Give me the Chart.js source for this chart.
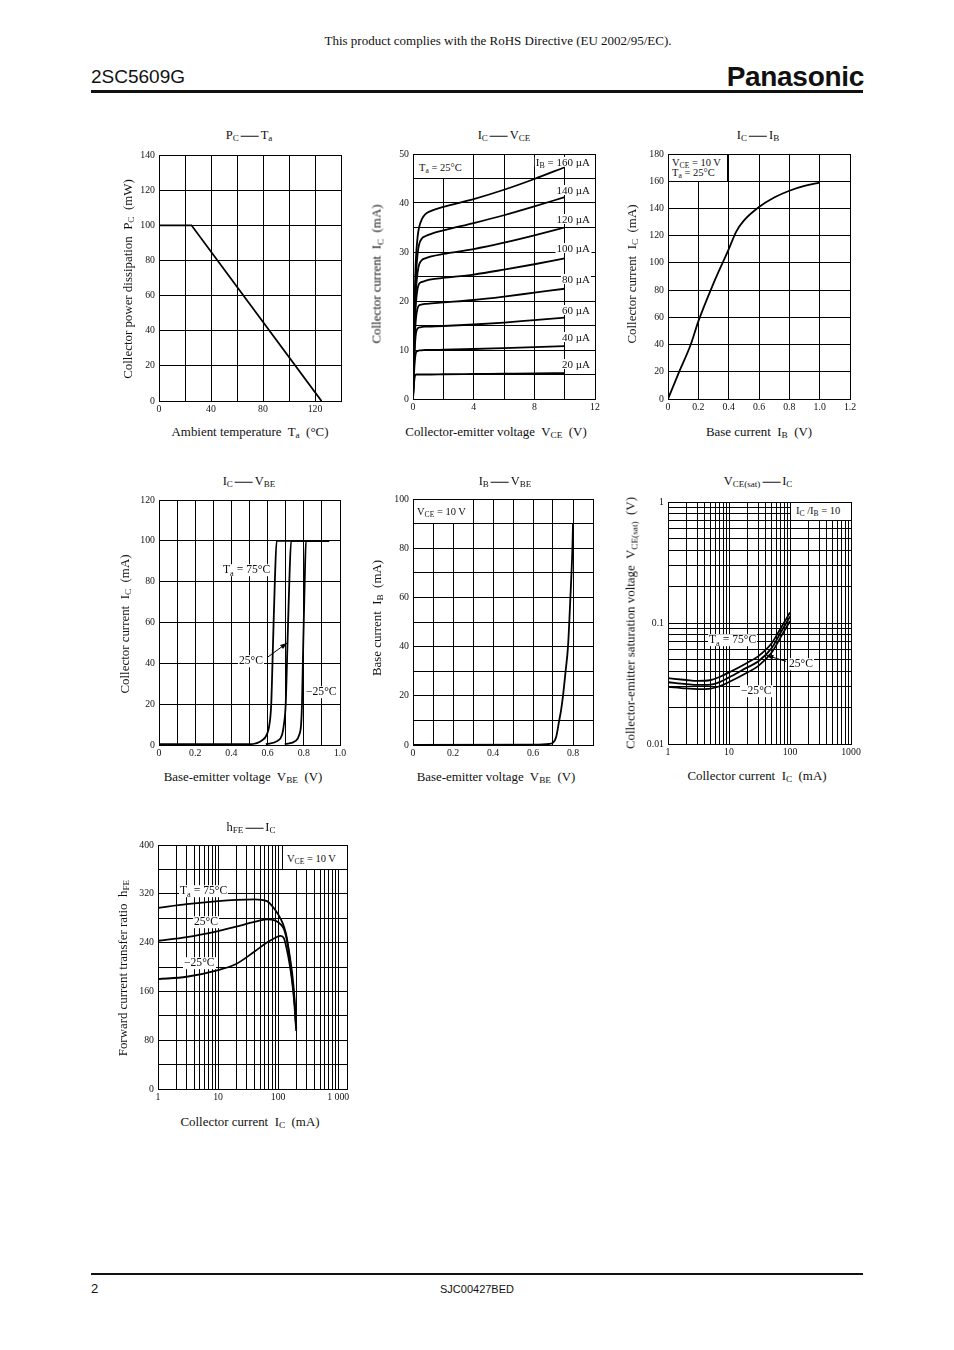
<!DOCTYPE html>
<html>
<head>
<meta charset="utf-8">
<title>2SC5609G</title>
<script src="https://cdn.jsdelivr.net/npm/chart.js@4.4.1/dist/chart.umd.min.js"></script>
<style>
body { margin: 0; background: #fff; }
#page { position: relative; width: 954px; height: 1350px; overflow: hidden; font-family: "Liberation Serif", "Times New Roman", serif; color: #111; }
#plots canvas { position: absolute; }
.abs { position: absolute; white-space: nowrap; line-height: 1; }
.c { transform: translate(-50%, -50%); }
.l { transform: translate(0, -50%); }
.r { transform: translate(-100%, -50%); }
.rot { transform: translate(-50%, -50%) rotate(-90deg); }
sub { font-size: 72%; vertical-align: -0.3em; line-height: 0; }
.ttl { font-size: 12.5px; }
.ax { font-size: 12.9px; }
.note { font-size: 11.6px; background: #fff; padding: 0 1px; }
.note.thin { font-size: 11px; line-height: 8px; padding: 1px 1px; }
.box { position: absolute; background: #fff; border: 1px solid #000; box-sizing: border-box; }
.dash { display: inline-block; width: 18px; border-top: 1px solid #111; vertical-align: middle; margin: 0 2px 0 2px; }
.sans { font-family: "Liberation Sans", Arial, sans-serif; }
</style>
</head>
<body>
<div id="page">
  <div class="abs c" style="left:498px;top:40px;font-size:13px;">This product complies with the RoHS Directive (EU 2002/95/EC).</div>
  <div class="abs l sans" style="left:91px;top:76px;font-size:19px;">2SC5609G</div>
  <div class="abs r sans" style="left:864px;top:77px;font-size:28px;font-weight:bold;letter-spacing:-0.3px;">Panasonic</div>
  <div style="position:absolute;left:91px;top:90px;width:772px;height:3px;background:#111;"></div>

  <div id="plots"></div>

  <!-- PC - Ta -->
  <div class="abs c ttl" style="left:249px;top:135px;">P<sub>C</sub><span class="dash"></span>T<sub>a</sub></div>
  <div class="abs c ax" style="left:250px;top:432px;">Ambient temperature&nbsp; T<sub>a</sub>&nbsp; (°C)</div>
  <div class="abs rot ax" style="left:128px;top:279px;">Collector power dissipation&nbsp; P<sub>C</sub>&nbsp; (mW)</div>

  <!-- IC - VCE -->
  <div class="abs c ttl" style="left:504px;top:135px;">I<sub>C</sub><span class="dash"></span>V<sub>CE</sub></div>
  <div class="abs c ax" style="left:496px;top:432px;">Collector-emitter voltage&nbsp; V<sub>CE</sub>&nbsp; (V)</div>
  <div class="abs rot ax" style="left:377px;top:274px;">Collector current&nbsp; I<sub>C</sub>&nbsp; (mA)</div>
  <div class="box" style="left:413px;top:154px;width:61px;height:25px;"></div>
  <div class="abs l" style="left:419px;top:168px;font-size:10.5px;">T<sub>a</sub> = 25°C</div>
  <div class="abs r note thin" style="left:591px;top:162px;">I<sub>B</sub> = 160 µA</div>
  <div class="abs r note thin" style="left:591px;top:190px;">140 µA</div>
  <div class="abs r note thin" style="left:591px;top:219px;">120 µA</div>
  <div class="abs r note thin" style="left:591px;top:248px;">100 µA</div>
  <div class="abs r note thin" style="left:591px;top:279px;">80 µA</div>
  <div class="abs r note thin" style="left:591px;top:310px;">60 µA</div>
  <div class="abs r note thin" style="left:591px;top:337px;">40 µA</div>
  <div class="abs r note thin" style="left:591px;top:364px;">20 µA</div>

  <!-- IC - IB -->
  <div class="abs c ttl" style="left:758px;top:135px;">I<sub>C</sub><span class="dash"></span>I<sub>B</sub></div>
  <div class="abs c ax" style="left:759px;top:432px;">Base current&nbsp; I<sub>B</sub>&nbsp; (V)</div>
  <div class="abs rot ax" style="left:632px;top:274px;">Collector current&nbsp; I<sub>C</sub>&nbsp; (mA)</div>
  <div class="box" style="left:668px;top:154px;width:60px;height:28px;"></div>
  <div class="abs l" style="left:672px;top:163px;font-size:10.5px;">V<sub>CE</sub> = 10 V</div>
  <div class="abs l" style="left:672px;top:173px;font-size:10.5px;">T<sub>a</sub> = 25°C</div>

  <!-- IC - VBE -->
  <div class="abs c ttl" style="left:249px;top:481px;">I<sub>C</sub><span class="dash"></span>V<sub>BE</sub></div>
  <div class="abs c ax" style="left:243px;top:777px;">Base-emitter voltage&nbsp; V<sub>BE</sub>&nbsp; (V)</div>
  <div class="abs rot ax" style="left:125px;top:624px;">Collector current&nbsp; I<sub>C</sub>&nbsp; (mA)</div>
  <div class="abs l note" style="left:222px;top:570px;">T<sub>a</sub> = 75°C</div>
  <div class="abs l note" style="left:238px;top:661px;">25°C</div>
  <div class="abs l note" style="left:305px;top:692px;">−25°C</div>

  <!-- IB - VBE -->
  <div class="abs c ttl" style="left:505px;top:481px;">I<sub>B</sub><span class="dash"></span>V<sub>BE</sub></div>
  <div class="abs c ax" style="left:496px;top:777px;">Base-emitter voltage&nbsp; V<sub>BE</sub>&nbsp; (V)</div>
  <div class="abs rot ax" style="left:377px;top:618px;">Base current&nbsp; I<sub>B</sub>&nbsp; (mA)</div>
  <div class="box" style="left:413px;top:499px;width:61px;height:25px;"></div>
  <div class="abs l" style="left:417px;top:512px;font-size:10.5px;">V<sub>CE</sub> = 10 V</div>

  <!-- VCE(sat) - IC -->
  <div class="abs c ttl" style="left:758px;top:481px;">V<sub>CE(sat)</sub><span class="dash"></span>I<sub>C</sub></div>
  <div class="abs c ax" style="left:757px;top:776px;">Collector current&nbsp; I<sub>C</sub>&nbsp; (mA)</div>
  <div class="abs rot ax" style="left:631px;top:623px;">Collector-emitter saturation voltage&nbsp; V<sub>CE(sat)</sub>&nbsp; (V)</div>
  <div class="box" style="left:790px;top:502px;width:62px;height:19px;"></div>
  <div class="abs l" style="left:796px;top:511px;font-size:10.5px;">I<sub>C</sub> /I<sub>B</sub> = 10</div>
  <div class="abs l note" style="left:708px;top:640px;">T<sub>a</sub> = 75°C</div>
  <div class="abs l note" style="left:788px;top:664px;">25°C</div>
  <div class="abs l note" style="left:740px;top:691px;">−25°C</div>

  <!-- hFE - IC -->
  <div class="abs c ttl" style="left:251px;top:827px;">h<sub>FE</sub><span class="dash"></span>I<sub>C</sub></div>
  <div class="abs c ax" style="left:250px;top:1122px;">Collector current&nbsp; I<sub>C</sub>&nbsp; (mA)</div>
  <div class="abs rot ax" style="left:123px;top:968px;">Forward current transfer ratio&nbsp; h<sub>FE</sub></div>
  <div class="box" style="left:282px;top:845px;width:66px;height:25px;"></div>
  <div class="abs l" style="left:287px;top:859px;font-size:10.5px;">V<sub>CE</sub> = 10 V</div>
  <div class="abs l note" style="left:179px;top:891px;">T<sub>a</sub> = 75°C</div>
  <div class="abs l note" style="left:193px;top:922px;">25°C</div>
  <div class="abs l note" style="left:183px;top:963px;">−25°C</div>

  <div style="position:absolute;left:91px;top:1273px;width:772px;height:1.5px;background:#111;"></div>
  <div class="abs l sans" style="left:91px;top:1288px;font-size:13px;">2</div>
  <div class="abs c sans" style="left:477px;top:1289px;font-size:11px;">SJC00427BED</div>
</div>

<script>
/* ====== data ===== */
// PC - Ta
const TA = [0, 25, 125];
const PC = [100, 100, 0];

// IC - VCE, one series per base current
const VCE = [0, 0.05, 0.1, 0.15, 0.2, 0.3, 0.4, 0.6, 0.8, 1.2, 2, 4, 6, 8, 10];
const IC_IB160 = [0, 10, 19, 25, 29, 33, 35, 36.8, 37.7, 38.4, 39.2, 40.8, 42.7, 44.9, 47.3];
const IC_IB140 = [0, 9, 17, 22, 25.5, 29.5, 31.5, 32.8, 33.2, 33.7, 34.4, 35.9, 37.5, 39.3, 41.2];
const IC_IB120 = [0, 8, 15, 19.5, 22.5, 25.8, 27.4, 28.4, 28.7, 29.1, 29.6, 30.6, 31.9, 33.4, 35];
const IC_IB100 = [0, 7, 13, 17, 19.8, 22.5, 23.5, 23.9, 24.1, 24.4, 24.7, 25.4, 26.4, 27.5, 28.7];
const IC_IB80 = [0, 6, 11, 14.5, 16.6, 18.5, 19.1, 19.3, 19.4, 19.5, 19.7, 20.2, 20.9, 21.7, 22.5];
const IC_IB60 = [0, 5, 9, 12, 13.5, 14.4, 14.6, 14.7, 14.75, 14.8, 14.9, 15.2, 15.6, 16.1, 16.6];
const IC_IB40 = [0, 4, 7, 8.7, 9.5, 9.8, 9.9, 9.95, 10, 10, 10.05, 10.2, 10.4, 10.6, 10.8];
const IC_IB20 = [0, 2.5, 4.2, 4.8, 5, 5, 5, 5, 5, 5, 5.05, 5.1, 5.15, 5.2, 5.3];

// IC - IB
const IB = [0, 0.07, 0.15, 0.2, 0.3, 0.4, 0.45, 0.5, 0.6, 0.7, 0.8, 0.9, 1.0];
const IC_OF_IB = [0, 19, 40, 57, 85, 110, 123, 131, 141, 148, 153, 156.5, 159];

// IC - VBE
const VBE_75 = [0, 0.5, 0.565, 0.595, 0.61, 0.62, 0.63, 0.64, 0.65, 0.94];
const IC_75 = [0.4, 0.4, 2, 5, 10, 20, 50, 80, 100, 100];
const VBE_25 = [0.59, 0.655, 0.68, 0.69, 0.7, 0.71, 0.72, 0.73, 0.94];
const IC_25 = [0.4, 2, 5, 10, 20, 50, 80, 100, 100];
const VBE_M25 = [0.695, 0.755, 0.775, 0.785, 0.79, 0.797, 0.805, 0.812, 0.94];
const IC_M25 = [0.4, 2, 5, 10, 20, 50, 80, 100, 100];
const ARROW_VBE = [[0.6, 43], [0.708, 50]];

// IB - VBE
const VBE_IB = [0, 0.6, 0.68, 0.7, 0.715, 0.73, 0.74, 0.75, 0.763, 0.775, 0.787, 0.797, 0.8];
const IB_OF_VBE = [0, 0.1, 0.4, 1, 3, 9.5, 14, 20, 30, 40, 60, 80, 90];

// VCE(sat) - IC
const IC_SAT = [1, 2, 3, 5, 7, 10, 20, 30, 50, 70, 100];
const VSAT_75 = [0.035, 0.0338, 0.0332, 0.0338, 0.0358, 0.039, 0.047, 0.053, 0.068, 0.09, 0.122];
const VSAT_25 = [0.0324, 0.0313, 0.0308, 0.031, 0.0325, 0.0355, 0.043, 0.048, 0.062, 0.083, 0.113];
const VSAT_M25 = [0.0297, 0.0288, 0.0284, 0.0287, 0.03, 0.0325, 0.039, 0.044, 0.057, 0.076, 0.104];
const ARROW_SAT = [[86, 0.0482], [41, 0.054]];

// hFE - IC
const IC_HFE = [1, 3, 10, 20, 40, 65, 90, 110, 125, 140, 155, 170, 185, 200];
const HFE_75 = [297, 303, 308, 310, 311, 308, 293, 279, 266, 247, 214, 182, 149, 100];
const HFE_25 = [243, 249, 259, 266, 274, 278, 276, 270, 262, 244, 220, 192, 155, 98];
const HFE_M25 = [180, 184, 195, 205, 225, 240, 248, 251, 247, 228, 205, 178, 143, 95];

// log tick positions
const DECADE = [1, 2, 3, 4, 5, 6, 7, 8, 9];

/* ====== helpers ===== */
const PAD_L = 40, PAD_T = 10, PAD_R = 16, PAD_B = 22;

Chart.defaults.font.family = '"Liberation Serif", "Times New Roman", serif';
Chart.defaults.font.size = 9.8;
Chart.defaults.color = '#111';

Chart.register({
    id: 'arrows',
    afterDatasetsDraw(chart, args, opts) {
        const ctx = chart.ctx;
        (opts.list || []).forEach(a => {
            const x1 = chart.scales.x.getPixelForValue(a[0][0]);
            const y1 = chart.scales.y.getPixelForValue(a[0][1]);
            const x2 = chart.scales.x.getPixelForValue(a[1][0]);
            const y2 = chart.scales.y.getPixelForValue(a[1][1]);
            const ang = Math.atan2(y2 - y1, x2 - x1);
            ctx.save();
            ctx.strokeStyle = '#000';
            ctx.fillStyle = '#000';
            ctx.lineWidth = 1;
            ctx.beginPath();
            ctx.moveTo(x1, y1);
            ctx.lineTo(x2, y2);
            ctx.stroke();
            ctx.beginPath();
            ctx.moveTo(x2, y2);
            ctx.lineTo(x2 - 7 * Math.cos(ang) + 2.5 * Math.sin(ang), y2 - 7 * Math.sin(ang) - 2.5 * Math.cos(ang));
            ctx.lineTo(x2 - 7 * Math.cos(ang) - 2.5 * Math.sin(ang), y2 - 7 * Math.sin(ang) + 2.5 * Math.cos(ang));
            ctx.closePath();
            ctx.fill();
            ctx.restore();
        });
    }
});

function logTicks(fromExp, toExp) {
    const out = [];
    for (let e = fromExp; e < toExp; e++) {
        DECADE.forEach(k => out.push(+(k * Math.pow(10, e)).toPrecision(3)));
    }
    out.push(Math.pow(10, toExp));
    return out;
}

function isPow10(v) {
    const l = Math.log10(v);
    return Math.abs(l - Math.round(l)) < 1e-9;
}

const dec1 = v => (v === 0 ? '0' : v.toFixed(1));
const plain = v => String(v);

function axisBase(pos) {
    return {
        position: pos,
        afterFit: pos === 'left' ? s => { s.width = PAD_L; } : s => { s.height = PAD_B; },
        grid: { color: '#000', lineWidth: 1, drawTicks: false },
        border: { color: '#000', width: 1 }
    };
}

function linAxis(pos, min, max, step, every, fmt) {
    return Object.assign(axisBase(pos), {
        type: 'linear', min: min, max: max,
        ticks: {
            stepSize: step, autoSkip: false, padding: pos === 'left' ? 4 : 3, maxRotation: 0,
            callback: v => (Math.abs(v / every - Math.round(v / every)) < 1e-6 ? fmt(v) : '')
        }
    });
}

function logAxis(pos, min, max, tickVals, fmt) {
    return Object.assign(axisBase(pos), {
        type: 'logarithmic', min: min, max: max,
        afterBuildTicks: s => { s.ticks = tickVals.map(v => ({ value: v })); },
        ticks: { autoSkip: false, padding: pos === 'left' ? 4 : 3, maxRotation: 0, callback: v => fmt(v) }
    });
}

function curve(xs, ys, smooth) {
    return {
        data: xs.map((x, i) => ({ x: x, y: ys[i] })),
        borderColor: '#000',
        borderWidth: 1.8,
        pointRadius: 0,
        fill: false,
        tension: 0,
        cubicInterpolationMode: smooth ? 'monotone' : 'default'
    };
}

function makeChart(rect, datasets, xAxis, yAxis, arrows) {
    const cv = document.createElement('canvas');
    const w = rect.r - rect.l + PAD_L + PAD_R;
    const h = rect.b - rect.t + PAD_T + PAD_B;
    cv.width = w;
    cv.height = h;
    cv.style.width = w + 'px';
    cv.style.height = h + 'px';
    cv.style.left = (rect.l - PAD_L) + 'px';
    cv.style.top = (rect.t - PAD_T) + 'px';
    document.querySelector('#plots').appendChild(cv);
    return new Chart(cv, {
        type: 'line',
        data: { datasets: datasets },
        options: {
            responsive: false,
            devicePixelRatio: 1,
            animation: false,
            layout: { padding: { left: 0, top: PAD_T, right: PAD_R, bottom: 0 } },
            plugins: { legend: { display: false }, tooltip: { enabled: false }, arrows: { list: arrows || [] } },
            scales: { x: xAxis, y: yAxis }
        }
    });
}

/* ====== PC - Ta ===== */
makeChart({ l: 159, t: 155, r: 341, b: 401 },
    [curve(TA, PC, false)],
    linAxis('bottom', 0, 140, 20, 40, plain),
    linAxis('left', 0, 140, 20, 20, plain));

/* ====== IC - VCE ===== */
makeChart({ l: 413, t: 154, r: 595, b: 399 },
    [IC_IB160, IC_IB140, IC_IB120, IC_IB100, IC_IB80, IC_IB60, IC_IB40, IC_IB20].map(s => curve(VCE, s, true)),
    linAxis('bottom', 0, 12, 2, 4, plain),
    linAxis('left', 0, 50, 5, 10, plain));

/* ====== IC - IB ===== */
makeChart({ l: 668, t: 154, r: 850, b: 399 },
    [curve(IB, IC_OF_IB, true)],
    linAxis('bottom', 0, 1.2, 0.2, 0.2, dec1),
    linAxis('left', 0, 180, 20, 20, plain));

/* ====== IC - VBE ===== */
makeChart({ l: 159, t: 500, r: 340, b: 745 },
    [curve(VBE_75, IC_75, true), curve(VBE_25, IC_25, true), curve(VBE_M25, IC_M25, true)],
    linAxis('bottom', 0, 1.0, 0.1, 0.2, dec1),
    linAxis('left', 0, 120, 20, 20, plain),
    [ARROW_VBE]);

/* ====== IB - VBE ===== */
makeChart({ l: 413, t: 499, r: 593, b: 745 },
    [curve(VBE_IB, IB_OF_VBE, true)],
    linAxis('bottom', 0, 0.9, 0.1, 0.2, dec1),
    linAxis('left', 0, 100, 10, 20, plain));

/* ====== VCE(sat) - IC ===== */
makeChart({ l: 668, t: 502, r: 851, b: 744 },
    [curve(IC_SAT, VSAT_75, true), curve(IC_SAT, VSAT_25, true), curve(IC_SAT, VSAT_M25, true)],
    logAxis('bottom', 1, 1000, logTicks(0, 3), v => (isPow10(v) ? String(v) : '')),
    logAxis('left', 0.01, 1, logTicks(-2, 0), v => (isPow10(v) ? String(v) : '')),
    [ARROW_SAT]);

/* ====== hFE - IC ===== */
makeChart({ l: 158, t: 845, r: 347, b: 1089 },
    [curve(IC_HFE, HFE_75, true), curve(IC_HFE, HFE_25, true), curve(IC_HFE, HFE_M25, true)],
    logAxis('bottom', 1, 1400, logTicks(0, 3).concat([1400]), v => (v === 1000 ? '1 000' : (v < 1000 && isPow10(v) ? String(v) : ''))),
    linAxis('left', 0, 400, 40, 80, plain));
</script>
</body>
</html>
